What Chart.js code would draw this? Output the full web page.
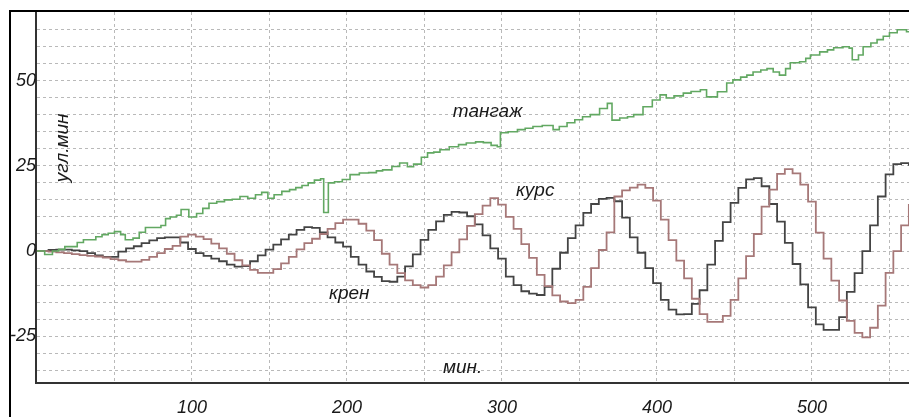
<!DOCTYPE html>
<html><head><meta charset="utf-8">
<script src="https://cdn.jsdelivr.net/npm/chart.js@4"></script>
<style>html,body{margin:0;padding:0;background:#fff}#wrap{width:909px;height:417px;position:relative}canvas{display:block}</style>
</head><body><div id="wrap"><canvas id="c" width="909" height="417"></canvas></div>
<script>
// ---- data ----
const minutes = [
  0,5,10,15,20,25,30,35,40,45,
  50,55,60,65,70,75,80,85,90,95,
  100,105,110,115,120,125,130,135,140,145,
  150,155,160,165,170,175,180,185,190,195,
  200,205,210,215,220,225,230,235,240,245,
  250,255,260,265,270,275,280,285,290,295,
  300,305,310,315,320,325,330,335,340,345,
  350,355,360,365,370,375,380,385,390,395,
  400,405,410,415,420,425,430,435,440,445,
  450,455,460,465,470,475,480,485,490,495,
  500,505,510,515,520,525,530,535,540,545,
  550,555,560,565];
const kren = [
  0,0,0.3,0.4,0.4,0.2,0,-0.6,-1.3,-1.7,
  -1.7,-0.2,0.8,1.4,2.3,3.1,3.8,4,4,2.5,
  0.6,-0.6,-1.4,-2.2,-3,-4,-4.6,-4.4,-3,-1.3,
  0.4,1.9,3.4,4.8,6.2,7,6.8,5.5,4,2.5,
  1.3,-1.7,-4,-6,-7.6,-8.8,-9,-7.5,-4.5,-1,
  3.3,6.2,8.7,10.6,11.5,11.3,10.2,7.8,4.6,0.8,
  -2.2,-7.5,-10,-11.8,-12.5,-12.9,-10.5,-5.2,-0.5,3.8,
  7.5,11.2,13.8,15.3,15.6,14.6,9.8,4,-0.5,-5,
  -9.4,-14.3,-17.2,-18.6,-18.5,-15.5,-11.5,-4,3,8.5,
  14.1,18.5,21,21.4,19,13.8,8.6,2.4,-3.8,-9.8,
  -16.5,-21.5,-23.1,-23.1,-19.4,-12,-6.5,0,7.5,16,
  22.5,25.5,25.8,25.3];
const kurs = [
  0,0,-0.2,-0.4,-0.6,-0.9,-1.2,-1.4,-1.6,-1.9,
  -2.4,-2.7,-3.1,-3.1,-2.6,-1.7,-0.6,0.6,1.5,4.2,
  4.8,4.2,3.5,2.2,0.8,-0.8,-2.7,-4.2,-5.5,-6.4,
  -6.4,-5.3,-3.6,-1.7,0.5,2.3,3.6,5,6.5,8.2,
  9.2,9.2,8,6,3.2,-0.8,-4,-6.5,-8.6,-10,
  -10.7,-10,-7.5,-4.2,-0.4,3.4,7.4,10.8,13.3,15.5,
  13.6,10,6.5,2,-2,-7,-10.3,-13,-14.8,-15.3,
  -14.3,-10.5,-5,0.3,5.5,16,17.8,18.6,19.5,18.5,
  14.8,9.2,3.2,-2.8,-8,-14,-18.5,-20.8,-20.8,-19,
  -14.3,-8,-1.5,5,13,18,22.6,24,22.8,19.5,
  14.5,5.4,-2.2,-8.7,-14.5,-20.5,-24,-25.3,-22.5,-16,
  -6.4,0,7.5,13.5];
const pitchMin = [
  0,3,5,9,10,14,18,24,26,30,
  36,38,42,46,50,54,57,62,66,70,
  76,80,83,86,90,93,96,98,103,107,
  111,116,121,126,131,136,141,145,149,153,
  158,163,167,171,175,179,183,185,187,188,
  192,197,202,208,214,219,223,229,234,239,
  243,248,252,256,260,266,272,277,283,288,
  293,297,299,304,310,315,320,326,333,337,
  342,347,352,357,363,368,371,376,381,385,
  391,397,402,406,411,417,422,428,432,439,
  445,449,454,458,462,467,471,475,479,483,
  486,492,496,499,505,510,514,520,524,526,
  530,533,538,542,546,550,555,561,565];
const pitchVal = [
  0,0,-1,-1,0,0.5,1.3,1.3,2.5,3.3,
  3.3,4.2,4.8,5.2,5.7,4.8,3.3,3.8,5.5,6.9,
  6.9,7.5,9.5,10,10.5,12.2,12.2,10,11,12.5,
  14,14.5,15,15.2,16,15.5,16.5,17.2,15.5,16.5,
  17.5,18,18.6,19.2,20,20.8,21.2,11.3,11.3,20,
  20.3,21,22.4,22.9,23,23.5,23.8,24.8,25.8,24.7,
  25.5,27.5,28.8,29,29.7,30.6,31.2,31.7,32,31.8,
  31,30.6,34.7,35,35.6,36,36.5,36.8,35.6,36.5,
  37.6,38.5,39.4,40,41.8,43.3,38.4,39,39.4,40,
  42.3,44.3,45.8,44.9,45.5,46.3,46.8,47.3,45.2,46.7,
  49.3,50.2,51,51.6,52.5,53.1,53.5,52.5,51.6,53.5,
  55.2,55.5,56.5,57.5,58.4,59,59.6,59.9,59.5,56.1,
  57.5,59.9,61,62,63,64,64.9,64.3,64.5];
const xTickValues = [50,100,150,200,250,300,350,400,450,500,550];
const xLabelled = [100,200,300,400,500];
const yTickValues = [-35,-30,-25,-20,-15,-10,-5,0,5,10,15,20,25,30,35,40,45,50,55,60,65];
const yLabelled = [-25,0,25,50];
const seriesNames = ['тангаж','курс','крен'];
const xTitle = 'мин.';
const yTitle = 'угл.мин';

// ---- presentation ----
const FONT = '"Liberation Sans", Arial, sans-serif';
const notePlaces = [
  {text: seriesNames[0], x: 268.3, y: 39.3},
  {text: seriesNames[1], x: 309, y: 16.0},
  {text: seriesNames[2], x: 188.4, y: -14.1},
  {text: xTitle, x: 261.9, y: -35.8}
];
const frame = {
  id: 'frame',
  beforeDraw(chart) {
    const ctx = chart.ctx;
    ctx.save();
    ctx.fillStyle = '#fff';
    ctx.fillRect(0, 0, chart.width, chart.height);
    ctx.restore();
  },
  afterDraw(chart) {
    const ctx = chart.ctx;
    ctx.save();
    ctx.strokeStyle = '#000';
    ctx.lineWidth = 2;
    ctx.beginPath();
    ctx.moveTo(10, chart.height + 2);
    ctx.lineTo(10, 11);
    ctx.lineTo(chart.width + 2, 11);
    ctx.stroke();
    ctx.restore();
  }
};
const notes = {
  id: 'notes',
  afterDatasetsDraw(chart) {
    const ctx = chart.ctx, xs = chart.scales.x, ys = chart.scales.y;
    ctx.save();
    ctx.fillStyle = '#1a1a1a';
    ctx.font = 'italic 19px ' + FONT;
    ctx.textAlign = 'left';
    ctx.textBaseline = 'alphabetic';
    notePlaces.forEach(n => ctx.fillText(n.text, xs.getPixelForValue(n.x), ys.getPixelForValue(n.y)));
    ctx.translate(xs.getPixelForValue(20.0), ys.getPixelForValue(20.2));
    ctx.rotate(-Math.PI / 2);
    ctx.fillText(yTitle, 0, 0);
    ctx.restore();
  }
};

const line = (label, xs, ys, color, stepped, w) => ({
  label, data: xs.map((m, i) => ({x: m, y: ys[i]})),
  borderColor: color, borderWidth: w, pointRadius: 0, fill: false, stepped
});

new Chart(document.getElementById('c'), {
  type: 'line',
  data: {datasets: [
    line(seriesNames[0], pitchMin, pitchVal, '#62a862', true, 1.6),
    line(seriesNames[1], minutes, kurs, '#a67878', 'middle', 1.8),
    line(seriesNames[2], minutes, kren, '#444444', 'middle', 1.8)
  ]},
  options: {
    responsive: false, animation: false, devicePixelRatio: 1,
    layout: {padding: {top: 12, left: 0, right: 0, bottom: 0}},
    plugins: {legend: {display: false}, tooltip: {enabled: false}},
    scales: {
      x: {
        type: 'linear', min: -0.6, max: 562.6,
        afterBuildTicks: s => { s.ticks = xTickValues.map(v => ({value: v})); },
        afterFit: s => { s.height = 34; },
        ticks: {autoSkip: false, maxRotation: 0, padding: 14, color: '#1a1a1a',
          font: {family: FONT, size: 18, style: 'italic'},
          callback: v => xLabelled.includes(v) ? String(v) : ''},
        grid: {color: '#b9b9b9', lineWidth: 1, drawTicks: false},
        border: {display: true, color: '#333', width: 2, dash: [3, 3]}
      },
      y: {
        type: 'linear', min: -38.7, max: 70.1,
        afterBuildTicks: s => { s.ticks = yTickValues.map(v => ({value: v})); },
        afterFit: s => { s.width = 36; },
        ticks: {autoSkip: false, padding: 0, color: '#1a1a1a',
          font: {family: FONT, size: 18, style: 'italic'},
          callback: v => yLabelled.includes(v) ? String(v) : ''},
        grid: {color: '#b9b9b9', lineWidth: 1, drawTicks: false},
        border: {display: true, color: '#333', width: 2, dash: [3, 3]}
      }
    }
  },
  plugins: [frame, notes]
});
</script>
</body></html>
